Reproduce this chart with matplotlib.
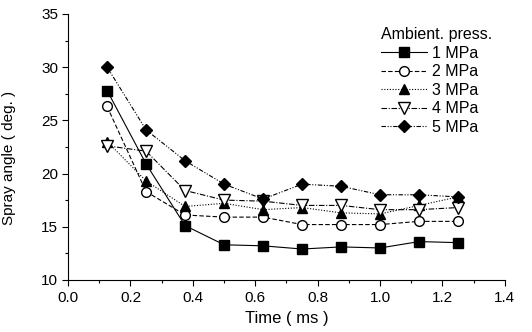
import matplotlib
matplotlib.use('Agg')
import matplotlib.pyplot as plt
from matplotlib.ticker import MultipleLocator

plt.rcParams['font.family'] = ['Liberation Sans', 'DejaVu Sans']

# Data
time_ms = [0.125, 0.25, 0.375, 0.5, 0.625, 0.75, 0.875, 1.0, 1.125, 1.25]
p1 = [27.8, 20.9, 15.1, 13.3, 13.2, 12.9, 13.1, 13.0, 13.6, 13.5]
p2 = [26.3, 18.3, 16.1, 15.9, 15.9, 15.2, 15.2, 15.2, 15.5, 15.5]
p3 = [23.0, 19.3, 16.9, 17.2, 16.6, 16.8, 16.3, 16.2, 17.0, 17.8]
p4 = [22.6, 22.1, 18.4, 17.5, 17.4, 17.0, 17.0, 16.6, 16.6, 16.8]
p5 = [30.0, 24.1, 21.2, 19.0, 17.6, 19.0, 18.8, 18.0, 18.0, 17.8]
labels = ['1 MPa', '2 MPa', '3 MPa', '4 MPa', '5 MPa']

fig = plt.figure(figsize=(5.32, 3.32), dpi=100)
ax = fig.add_axes([0.128, 0.157, 0.821, 0.801])

styles = [
    dict(linestyle='-', marker='s', mfc='black'),
    dict(linestyle=(0, (4, 2)), marker='o', mfc='white'),
    dict(linestyle=(0, (1, 1.5)), marker='^', mfc='black'),
    dict(linestyle=(0, (5, 1.5, 1, 1.5)), marker='v', mfc='white'),
    dict(linestyle=(0, (4, 1.5, 1, 1.5, 1, 1.5)), marker='D', mfc='black'),
]
sizes = [6.5, 7, 7.5, 8, 6.5]

for ys, lab, st, ms in zip([p1, p2, p3, p4, p5], labels, styles, sizes):
    ax.plot(time_ms, ys, color='black', linewidth=0.8, mec='black',
            markersize=ms, label=lab, **st)

ax.set_xlim(0, 1.4)
ax.set_ylim(10, 35)
ax.xaxis.set_major_locator(MultipleLocator(0.2))
ax.xaxis.set_minor_locator(MultipleLocator(0.1))
ax.yaxis.set_major_locator(MultipleLocator(5))
ax.yaxis.set_minor_locator(MultipleLocator(2.5))
ax.xaxis.set_major_formatter(plt.FuncFormatter(lambda v, p: f'{v:.1f}'))
ax.tick_params(which='major', direction='out', length=4, width=0.8, labelsize=11)
ax.tick_params(which='minor', direction='out', length=2.5, width=0.8)
ax.tick_params(axis='x', pad=4)
ax.tick_params(axis='y', pad=3)
ax.spines['top'].set_visible(False)
ax.spines['right'].set_visible(False)

ax.set_xlabel('Time ( ms )', fontsize=12, labelpad=4)
ax.set_ylabel('Spray angle ( deg. )', fontsize=11)
ax.yaxis.set_label_coords(-0.12, 0.46)

leg = ax.legend(title='Ambient. press.', loc='upper left', bbox_to_anchor=(0.697, 0.98),
                frameon=False, fontsize=11.5, title_fontsize=11.5, handlelength=2.9,
                handletextpad=0.3, labelspacing=0.22, borderpad=0)
leg._legend_box.align = 'left'

plt.savefig('out.png', dpi=100)
